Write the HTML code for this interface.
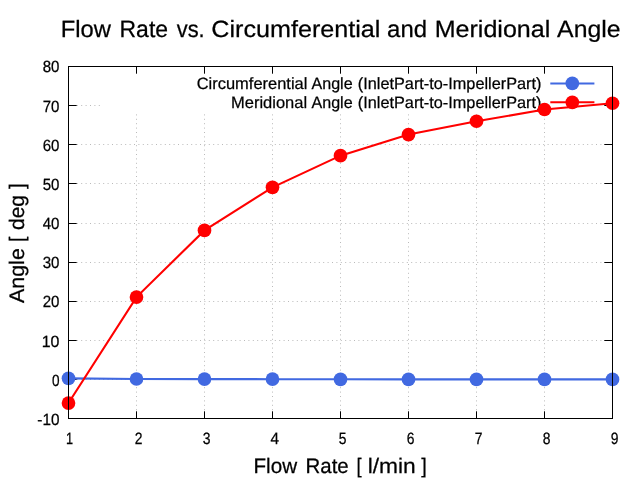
<!DOCTYPE html><html><head><meta charset="utf-8"><style>html,body{margin:0;padding:0;background:#fff}</style></head><body><svg width="640" height="480" viewBox="0 0 640 480" style="display:block"><rect width="640" height="480" fill="#fff"/><g stroke="#bababa" stroke-width="1" stroke-dasharray="1 3.4" fill="none"><line x1="68.0" y1="379.50" x2="612.5" y2="379.50"/><line x1="68.0" y1="340.50" x2="612.5" y2="340.50"/><line x1="68.0" y1="301.50" x2="612.5" y2="301.50"/><line x1="68.0" y1="262.50" x2="612.5" y2="262.50"/><line x1="68.0" y1="223.50" x2="612.5" y2="223.50"/><line x1="68.0" y1="183.50" x2="612.5" y2="183.50"/><line x1="68.0" y1="144.50" x2="612.5" y2="144.50"/><line x1="68.0" y1="105.50" x2="612.5" y2="105.50"/><line x1="136.5" y1="419.0" x2="136.5" y2="66.5"/><line x1="204.5" y1="419.0" x2="204.5" y2="66.5"/><line x1="272.5" y1="419.0" x2="272.5" y2="66.5"/><line x1="340.5" y1="419.0" x2="340.5" y2="66.5"/><line x1="408.5" y1="419.0" x2="408.5" y2="66.5"/><line x1="476.5" y1="419.0" x2="476.5" y2="66.5"/><line x1="544.5" y1="419.0" x2="544.5" y2="66.5"/></g><rect x="101" y="66.5" width="511.5" height="46.5" fill="#fff"/><g stroke="#000" stroke-width="1"><line x1="68.5" y1="418.50" x2="76.7" y2="418.50"/><line x1="612.5" y1="418.50" x2="604.3" y2="418.50"/><line x1="68.5" y1="379.50" x2="76.7" y2="379.50"/><line x1="612.5" y1="379.50" x2="604.3" y2="379.50"/><line x1="68.5" y1="340.50" x2="76.7" y2="340.50"/><line x1="612.5" y1="340.50" x2="604.3" y2="340.50"/><line x1="68.5" y1="301.50" x2="76.7" y2="301.50"/><line x1="612.5" y1="301.50" x2="604.3" y2="301.50"/><line x1="68.5" y1="262.50" x2="76.7" y2="262.50"/><line x1="612.5" y1="262.50" x2="604.3" y2="262.50"/><line x1="68.5" y1="223.50" x2="76.7" y2="223.50"/><line x1="612.5" y1="223.50" x2="604.3" y2="223.50"/><line x1="68.5" y1="183.50" x2="76.7" y2="183.50"/><line x1="612.5" y1="183.50" x2="604.3" y2="183.50"/><line x1="68.5" y1="144.50" x2="76.7" y2="144.50"/><line x1="612.5" y1="144.50" x2="604.3" y2="144.50"/><line x1="68.5" y1="105.50" x2="76.7" y2="105.50"/><line x1="612.5" y1="105.50" x2="604.3" y2="105.50"/><line x1="68.5" y1="66.50" x2="76.7" y2="66.50"/><line x1="612.5" y1="66.50" x2="604.3" y2="66.50"/><line x1="68.5" y1="418.5" x2="68.5" y2="411.3"/><line x1="68.5" y1="66.5" x2="68.5" y2="73.7"/><line x1="136.5" y1="418.5" x2="136.5" y2="411.3"/><line x1="136.5" y1="66.5" x2="136.5" y2="73.7"/><line x1="204.5" y1="418.5" x2="204.5" y2="411.3"/><line x1="204.5" y1="66.5" x2="204.5" y2="73.7"/><line x1="272.5" y1="418.5" x2="272.5" y2="411.3"/><line x1="272.5" y1="66.5" x2="272.5" y2="73.7"/><line x1="340.5" y1="418.5" x2="340.5" y2="411.3"/><line x1="340.5" y1="66.5" x2="340.5" y2="73.7"/><line x1="408.5" y1="418.5" x2="408.5" y2="411.3"/><line x1="408.5" y1="66.5" x2="408.5" y2="73.7"/><line x1="476.5" y1="418.5" x2="476.5" y2="411.3"/><line x1="476.5" y1="66.5" x2="476.5" y2="73.7"/><line x1="544.5" y1="418.5" x2="544.5" y2="411.3"/><line x1="544.5" y1="66.5" x2="544.5" y2="73.7"/><line x1="612.5" y1="418.5" x2="612.5" y2="411.3"/><line x1="612.5" y1="66.5" x2="612.5" y2="73.7"/></g><g font-family="Liberation Sans, sans-serif" fill="#000" stroke="#000" stroke-width="0.25" style="filter:grayscale(1);text-rendering:geometricPrecision"><text transform="translate(196.70,88.60) scale(1.0039,1)" font-size="16.4">Circumferential</text><text transform="translate(311.50,88.60) scale(0.9807,1)" font-size="16.4">Angle</text><text transform="translate(357.76,88.60) scale(0.9935,1)" font-size="16.4">(InletPart-to-ImpellerPart)</text><text transform="translate(230.99,107.85) scale(1.0071,1)" font-size="16.4">Meridional</text><text transform="translate(311.50,107.85) scale(0.9807,1)" font-size="16.4">Angle</text><text transform="translate(357.76,107.85) scale(0.9935,1)" font-size="16.4">(InletPart-to-ImpellerPart)</text></g><polyline fill="none" stroke="#4169e1" stroke-width="2.1" points="68.50,378.37 136.50,379.00 204.50,379.08 272.50,379.19 340.50,379.31 408.50,379.39 476.50,379.39 544.50,379.39 612.50,379.39"/><g fill="#4169e1"><circle cx="68.50" cy="378.37" r="6.85"/><circle cx="136.50" cy="379.00" r="6.85"/><circle cx="204.50" cy="379.08" r="6.85"/><circle cx="272.50" cy="379.19" r="6.85"/><circle cx="340.50" cy="379.31" r="6.85"/><circle cx="408.50" cy="379.39" r="6.85"/><circle cx="476.50" cy="379.39" r="6.85"/><circle cx="544.50" cy="379.39" r="6.85"/><circle cx="612.50" cy="379.39" r="6.85"/></g><line x1="550.3" y1="83.4" x2="594.4" y2="83.4" stroke="#4169e1" stroke-width="2"/><circle cx="572.3" cy="83.4" r="6.85" fill="#4169e1"/><polyline fill="none" stroke="#ff0000" stroke-width="2.1" points="68.50,403.05 136.50,297.06 204.50,230.38 272.50,187.35 340.50,155.67 408.50,134.55 476.50,121.26 544.50,109.52 612.50,103.26"/><g fill="#ff0000"><circle cx="68.50" cy="403.05" r="6.85"/><circle cx="136.50" cy="297.06" r="6.85"/><circle cx="204.50" cy="230.38" r="6.85"/><circle cx="272.50" cy="187.35" r="6.85"/><circle cx="340.50" cy="155.67" r="6.85"/><circle cx="408.50" cy="134.55" r="6.85"/><circle cx="476.50" cy="121.26" r="6.85"/><circle cx="544.50" cy="109.52" r="6.85"/><circle cx="612.50" cy="103.26" r="6.85"/></g><line x1="550.3" y1="102.3" x2="594.4" y2="102.3" stroke="#ff0000" stroke-width="2"/><circle cx="572.3" cy="102.3" r="6.85" fill="#ff0000"/><rect x="68.5" y="66.5" width="544.0" height="352.0" fill="none" stroke="#000" stroke-width="1"/><g font-family="Liberation Sans, sans-serif" fill="#000" stroke="#000" stroke-width="0.25" style="filter:grayscale(1);text-rendering:geometricPrecision"><text transform="translate(60.74,37.00) scale(1.0122,1)" font-size="23.5">Flow</text><text transform="translate(119.52,37.00) scale(0.9780,1)" font-size="23.5">Rate</text><text transform="translate(176.75,37.00) scale(0.9298,1)" font-size="23.5">vs.</text><text transform="translate(211.33,37.00) scale(1.0700,1)" font-size="23.5">Circumferential</text><text transform="translate(387.08,37.00) scale(1.0178,1)" font-size="23.5">and</text><text transform="translate(434.63,37.00) scale(1.0669,1)" font-size="23.5">Meridional</text><text transform="translate(557.10,37.00) scale(1.0561,1)" font-size="23.5">Angle</text><text transform="translate(253.52,473.00) scale(0.9825,1)" font-size="21">Flow</text><text transform="translate(305.53,473.00) scale(0.9724,1)" font-size="21">Rate</text><text transform="translate(356.62,473.00) scale(0.8800,1)" font-size="21">[</text><text transform="translate(367.67,473.00) scale(1.0842,1)" font-size="21">l/min</text><text transform="translate(421.25,473.00) scale(0.9500,1)" font-size="21">]</text><text transform="translate(24.00,303.00) rotate(-90) scale(1.0202,1)" font-size="21">Angle</text><text transform="translate(24.00,241.66) rotate(-90) scale(0.8600,1)" font-size="21">[</text><text transform="translate(24.00,230.00) rotate(-90) scale(0.9983,1)" font-size="21">deg</text><text transform="translate(24.00,189.00) rotate(-90) scale(1.0000,1)" font-size="21">]</text><text transform="translate(37.30,425.00) scale(0.9414,1)" font-size="16.3">-10</text><text transform="translate(51.90,386.00) scale(0.8333,1)" font-size="16.3">0</text><text transform="translate(41.72,347.00) scale(0.9792,1)" font-size="16.3">10</text><text transform="translate(42.70,307.00) scale(0.9250,1)" font-size="16.3">20</text><text transform="translate(42.70,268.00) scale(0.9250,1)" font-size="16.3">30</text><text transform="translate(42.70,229.00) scale(0.9250,1)" font-size="16.3">40</text><text transform="translate(42.70,190.00) scale(0.9250,1)" font-size="16.3">50</text><text transform="translate(42.70,151.00) scale(0.9250,1)" font-size="16.3">60</text><text transform="translate(42.70,112.00) scale(0.9250,1)" font-size="16.3">70</text><text transform="translate(42.70,72.00) scale(0.9250,1)" font-size="16.3">80</text><text transform="translate(66.12,444.00) scale(0.7750,1)" font-size="16.45">1</text><text transform="translate(134.70,444.00) scale(0.8444,1)" font-size="16.45">2</text><text transform="translate(202.70,444.00) scale(0.8444,1)" font-size="16.45">3</text><text transform="translate(270.40,444.00) scale(0.9333,1)" font-size="16.45">4</text><text transform="translate(338.70,444.00) scale(0.8444,1)" font-size="16.45">5</text><text transform="translate(406.70,444.00) scale(0.8444,1)" font-size="16.45">6</text><text transform="translate(474.70,444.00) scale(0.8444,1)" font-size="16.45">7</text><text transform="translate(542.70,444.00) scale(0.8444,1)" font-size="16.45">8</text><text transform="translate(610.70,444.00) scale(0.8444,1)" font-size="16.45">9</text></g></svg></body></html>
